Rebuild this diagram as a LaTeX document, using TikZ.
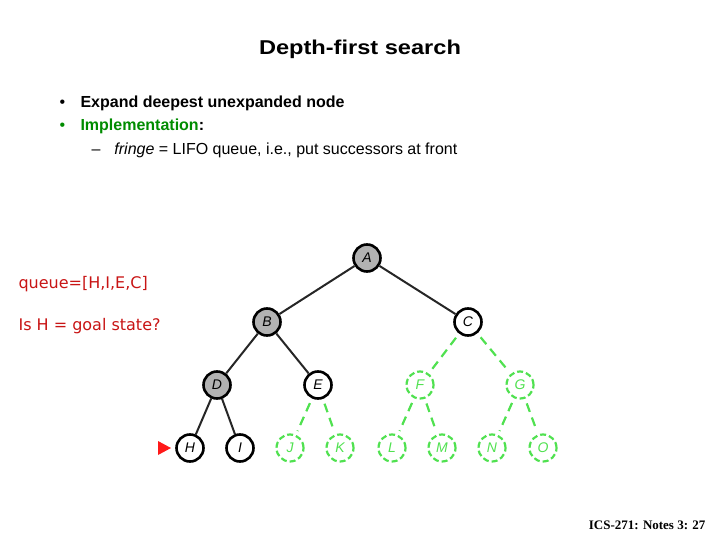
\documentclass[tikz,border=0pt]{standalone}
\usepackage{fontspec}
\setmainfont{Liberation Sans}
\newfontfamily\tahoma{DejaVu Sans}
\newfontfamily\timesf{Liberation Serif}
\begin{document}
\begin{tikzpicture}[x=1pt,y=-1pt,
  tn/.style={circle,draw=black,line width=2.6pt,minimum size=27pt,inner sep=0pt,font=\fontsize{14}{14}\selectfont\itshape},
  vis/.style={tn,fill=black!30},
  gn/.style={circle,dashed,dash pattern=on 6pt off 3pt,line width=2.2pt,minimum size=27pt,inner sep=0pt,font=\fontsize{14}{14}\selectfont\itshape},
  be/.style={draw=black!85,line width=2pt},
  ge/.style={line width=2.2pt,dash pattern=on 9pt off 6pt,shorten <=5pt,shorten >=4pt}]
\definecolor{gr}{RGB}{80,225,80}
\tikzset{gn/.append style={draw=gr,text=gr},ge/.append style={draw=gr}}
\useasboundingbox (0,0) rectangle (720,540);
% title & text
\node[font=\fontsize{20}{20}\selectfont\bfseries] (title) at (360,49) {\scalebox{1.18}[1]{Depth-first search}};
\node[anchor=base west,font=\fontsize{16}{16}\selectfont] (b1) at (56,108) {•};
\node[anchor=base west,font=\fontsize{16}{16}\selectfont\bfseries] (t1) at (77,108) {Expand deepest unexpanded node};
\node[anchor=base west,font=\fontsize{16}{16}\selectfont,text=green!55!black] (b2) at (56,131) {•};
\node[anchor=base west,font=\fontsize{16}{16}\selectfont\bfseries] (t2) at (77,131) {\textcolor{green!55!black}{Implementation}:};
\node[anchor=base west,font=\fontsize{16}{16}\selectfont] (t3) at (88,155) {–\hspace{14pt}\textit{fringe} = LIFO queue, i.e., put successors at front};
\definecolor{rd}{RGB}{200,20,20}
\node[anchor=base west,font=\tahoma\fontsize{16}{16}\selectfont,text=rd] (q) at (15,288) {queue=[H,I,E,C]};
\node[anchor=base west,font=\tahoma\fontsize{16}{16}\selectfont,text=rd] (goal) at (15,330) {Is H = goal state?};
\node[anchor=base east,font=\timesf\fontsize{13}{13}\selectfont\bfseries] (foot) at (709,529) {ICS-271: Notes 3: 27};
% tree
\node[vis] (A) at (367,258) {A};
\node[vis] (B) at (267,322) {B};
\node[tn] (C) at (468,322) {C};
\node[vis] (D) at (217,385) {D};
\node[tn] (E) at (318,385) {E};
\node[gn] (F) at (420,385) {F};
\node[gn] (G) at (520,385) {G};
\node[tn] (H) at (190,448) {H};
\node[tn] (I) at (240,448) {I};
\node[gn] (J) at (290,448) {J};
\node[gn] (K) at (340,448) {K};
\node[gn] (L) at (392,448) {L};
\node[gn] (M) at (442,448) {M};
\node[gn] (N) at (492,448) {N};
\node[gn] (O) at (543,448) {O};
\draw[be] (A) -- (B);
\draw[be] (A) -- (C);
\draw[be] (B) -- (D);
\draw[be] (B) -- (E);
\draw[be] (D) -- (H);
\draw[be] (D) -- (I);
\draw[ge] (C) -- (F);
\draw[ge] (C) -- (G);
\draw[ge] (E) -- (J);
\draw[ge] (E) -- (K);
\draw[ge] (F) -- (L);
\draw[ge] (F) -- (M);
\draw[ge] (G) -- (N);
\draw[ge] (G) -- (O);
\coordinate (ptr) at (171,448);
\fill[red!90!white] (ptr) -- ++(-13,-7) -- ++(0,14) -- cycle;
\end{tikzpicture}
\end{document}
